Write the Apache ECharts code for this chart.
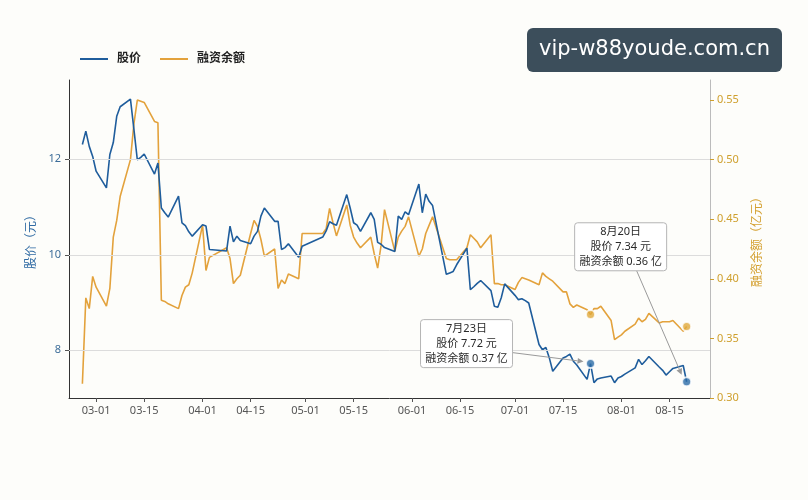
<!DOCTYPE html>
<html>
<head>
<meta charset="utf-8">
<script src="https://cdn.jsdelivr.net/npm/echarts@6/dist/echarts.min.js"></script>
<style>
  html, body { margin: 0; padding: 0; background: #fdfdfa; }
  #viz { width: 808px; height: 500px; }
</style>
</head>
<body>
<div id="viz"></div>
<script>
// trading days (2024)
var dates = [
  '02-26','02-27','02-28','02-29',
  '03-01','03-04','03-05','03-06','03-07','03-08','03-11','03-12','03-13','03-14','03-15',
  '03-18','03-19','03-20','03-21','03-22','03-25','03-26','03-27','03-28','03-29',
  '04-01','04-02','04-03','04-08','04-09','04-10','04-11','04-12','04-15','04-16',
  '04-17','04-18','04-19','04-22','04-23','04-24','04-25','04-26','04-29','04-30',
  '05-06','05-07','05-08','05-09','05-10','05-13','05-14','05-15','05-16','05-17',
  '05-20','05-21','05-22','05-23','05-24','05-27','05-28','05-29','05-30','05-31',
  '06-03','06-04','06-05','06-06','06-07','06-11','06-12','06-13','06-14','06-17',
  '06-18','06-19','06-20','06-21','06-24','06-25','06-26','06-27','06-28',
  '07-01','07-02','07-03','07-04','07-05','07-08','07-09','07-10','07-11','07-12',
  '07-15','07-16','07-17','07-18','07-19','07-22','07-23','07-24','07-25','07-26',
  '07-29','07-30','07-31',
  '08-01','08-02','08-05','08-06','08-07','08-08','08-09','08-12','08-13','08-14',
  '08-15','08-16','08-19','08-20'
];

// 股价 (元)
var price = [
  12.31, 12.59, 12.27, 12.06,
  11.75, 11.40, 12.10, 12.35, 12.90, 13.10, 13.26, 12.63, 11.99, 12.04, 12.11,
  11.69, 11.92, 10.98, 10.88, 10.79, 11.23, 10.67, 10.61, 10.48, 10.39,
  10.63, 10.60, 10.11, 10.08, 10.60, 10.27, 10.39, 10.30, 10.23, 10.39,
  10.49, 10.81, 10.98, 10.70, 10.70, 10.11, 10.15, 10.23, 9.95, 10.18,
  10.37, 10.50, 10.69, 10.65, 10.62, 11.26, 10.98, 10.67, 10.62, 10.49,
  10.88, 10.74, 10.26, 10.22, 10.15, 10.07, 10.81, 10.74, 10.90, 10.84,
  11.48, 10.88, 11.27, 11.12, 11.03, 9.59, 9.62, 9.65, 9.79, 10.14,
  9.27, 9.33, 9.40, 9.46, 9.25, 8.92, 8.90, 9.10, 9.39,
  9.15, 9.06, 9.08, 9.04, 8.99, 8.12, 8.01, 8.06, 7.84, 7.56,
  7.84, 7.87, 7.92, 7.77, 7.69, 7.39, 7.72, 7.32, 7.40, 7.42,
  7.46, 7.32, 7.42,
  7.45, 7.50, 7.63, 7.81, 7.70, 7.78, 7.87, 7.65, 7.58, 7.48,
  7.55, 7.62, 7.68, 7.34
];

// 融资余额 (亿元)
var margin = [
  0.312, 0.384, 0.375, 0.402,
  0.393, 0.377, 0.392, 0.435, 0.449, 0.469, 0.500, 0.530, 0.550, 0.549, 0.548,
  0.532, 0.531, 0.382, 0.381, 0.379, 0.375, 0.386, 0.393, 0.395, 0.405,
  0.445, 0.407, 0.418, 0.426, 0.417, 0.396, 0.400, 0.403, 0.438, 0.449,
  0.444, 0.433, 0.419, 0.425, 0.392, 0.399, 0.396, 0.404, 0.400, 0.438,
  0.438, 0.442, 0.459, 0.447, 0.436, 0.462, 0.445, 0.435, 0.430, 0.426,
  0.435, 0.421, 0.409, 0.428, 0.458, 0.423, 0.435, 0.440, 0.444, 0.452,
  0.419, 0.425, 0.438, 0.445, 0.452, 0.417, 0.416, 0.416, 0.416, 0.426,
  0.437, 0.434, 0.431, 0.426, 0.437, 0.396, 0.396, 0.395, 0.395,
  0.391, 0.397, 0.401, 0.400, 0.399, 0.395, 0.405, 0.402, 0.400, 0.398,
  0.389, 0.389, 0.379, 0.376, 0.378, 0.374, 0.370, 0.375, 0.375, 0.377,
  0.365, 0.349, 0.351,
  0.353, 0.356, 0.362, 0.367, 0.364, 0.366, 0.371, 0.363, 0.364, 0.364,
  0.364, 0.365, 0.356, 0.360
];

var tickDates = ['03-01','03-15','04-01','04-15','05-01','05-15','06-01','06-15','07-01','07-15','08-01','08-15'];
var priceTicks = [8, 10, 12];
var marginTicks = [0.30, 0.35, 0.40, 0.45, 0.50, 0.55];

// annotated days
var annoDates = ['07-23', '08-20'];
var annoLabels = ['7月23日', '8月20日'];
var annoPrice = [7.72, 7.34];
var annoMargin = [0.37, 0.36];

var YEAR = '2024-';
var BLUE = '#1f5d9c';
var ORANGE = '#e3a23c';
var GOLD = '#cfa02e';
var FONT = '"Noto Sans", "Noto Sans CJK SC", sans-serif';

function ts(d){
  var p = (YEAR + d).split('-');
  return new Date(+p[0], +p[1] - 1, +p[2]).getTime();
}
var DAY = 86400000;

var priceData = [], marginData = [];
for (var i in dates){
  priceData.push([ts(dates[i]), price[i]]);
  marginData.push([ts(dates[i]), margin[i]]);
}
var annoPriceData = [], annoMarginData = [];
for (var i in annoDates){
  annoPriceData.push([ts(annoDates[i]), annoPrice[i]]);
  annoMarginData.push([ts(annoDates[i]), annoMargin[i]]);
}
var tickVals = tickDates.map(ts);

var dom = document.getElementById('viz');
var myChart = echarts.init(dom, null, {renderer: 'canvas'});

var option = {
  backgroundColor: '#fdfdfa',
  animation: false,
  textStyle: { fontFamily: FONT },
  legend: {
    left: 75,
    top: 48,
    icon: 'rect',
    itemWidth: 28,
    itemHeight: 2,
    itemGap: 19,
    textStyle: { fontSize: 12, fontWeight: 'bold', color: '#222', fontFamily: FONT, padding: [0, 0, 0, 4] },
    data: ['股价', '融资余额']
  },
  grid: { left: 69, right: 98, top: 80, bottom: 102 },
  xAxis: {
    // timestamps on a value axis so the ticks can sit on the 1st and 15th
    type: 'value',
    min: ts('03-01') - 7.9 * DAY,
    max: ts('03-01') + 178.8 * DAY,
    axisLine: { lineStyle: { color: '#333', width: 1 } },
    axisTick: { customValues: tickVals, length: 4, lineStyle: { color: '#555' } },
    axisLabel: {
      customValues: tickVals,
      color: '#555',
      fontSize: 11,
      margin: 7,
      formatter: function(v){ return echarts.time.format(v, '{MM}-{dd}', false); }
    },
    splitLine: { show: false }
  },
  yAxis: [{
    type: 'value',
    min: 7,
    max: 13.66,
    position: 'left',
    name: '股价（元）',
    nameLocation: 'middle',
    nameRotate: 90,
    nameGap: 31,
    nameTextStyle: { color: '#2f6aa3', fontSize: 12 },
    axisLine: { show: true, lineStyle: { color: '#333', width: 1 } },
    axisTick: { show: true, customValues: priceTicks, length: 4, lineStyle: { color: '#555' } },
    axisLabel: { customValues: priceTicks, color: '#3d6d99', fontSize: 11, margin: 8 },
    splitLine: { show: false }
  }, {
    type: 'value',
    min: 0.30,
    max: 0.5668,
    position: 'right',
    name: '融资余额（亿元）',
    nameLocation: 'middle',
    nameRotate: 90,
    nameGap: 42,
    nameTextStyle: { color: '#d4a030', fontSize: 12 },
    axisLine: { show: true, lineStyle: { color: '#bbb', width: 1 } },
    axisTick: { show: true, customValues: marginTicks, length: 4, lineStyle: { color: GOLD } },
    axisLabel: { customValues: marginTicks, color: GOLD, fontSize: 11, margin: 7,
      formatter: function(v){ return v.toFixed(2); } },
    splitLine: { show: false }
  }],
  series: [{
    name: 'grid',
    type: 'line',
    data: [],
    silent: true,
    z: 0,
    markLine: {
      silent: true,
      symbol: 'none',
      label: { show: false },
      lineStyle: { color: '#dcdcdc', type: 'solid', width: 1 },
      data: priceTicks.map(function(v){ return { yAxis: v }; })
    }
  }, {
    name: '股价',
    type: 'line',
    yAxisIndex: 0,
    symbol: 'none',
    color: BLUE,
    lineStyle: { color: BLUE, width: 1.6 },
    data: priceData,
    z: 3
  }, {
    name: '融资余额',
    type: 'line',
    yAxisIndex: 1,
    symbol: 'none',
    color: ORANGE,
    lineStyle: { color: ORANGE, width: 1.6 },
    data: marginData,
    z: 2
  }, {
    name: 'p-dot',
    type: 'scatter',
    yAxisIndex: 0,
    symbolSize: 9,
    itemStyle: { color: '#2a6ca8', borderColor: '#fff', borderWidth: 2 },
    data: annoPriceData,
    z: 5
  }, {
    name: 'm-dot',
    type: 'scatter',
    yAxisIndex: 1,
    symbolSize: 9,
    itemStyle: { color: '#e0a93c', borderColor: '#fff', borderWidth: 2 },
    data: annoMarginData,
    z: 5
  }]
};
myChart.setOption(option);

/* annotation boxes + arrows, placed from the dots' pixel positions */
function arrow(x1, y1, x2, y2){
  var ang = Math.atan2(y2 - y1, x2 - x1), L = 6, W = 3;
  var bx = x2 - L * Math.cos(ang), by = y2 - L * Math.sin(ang);
  return [{
    type: 'line', z: 20, silent: true,
    shape: { x1: x1, y1: y1, x2: bx, y2: by },
    style: { stroke: '#9a9a9a', lineWidth: 1 }
  }, {
    type: 'polygon', z: 20, silent: true,
    shape: { points: [[x2, y2],
      [bx + W * Math.sin(ang), by - W * Math.cos(ang)],
      [bx - W * Math.sin(ang), by + W * Math.cos(ang)]] },
    style: { fill: '#9a9a9a' }
  }];
}

var boxOff = [[-124, -20], [-66, -135]];
var arrowOff = [[[-78, -11], [-7, -2]], [[-50, -111], [-5, -7]]];
var graphics = [];
for (var i in annoDates){
  var pt = myChart.convertToPixel({ xAxisIndex: 0, yAxisIndex: 0 }, annoPriceData[i]);
  var cx = pt[0] + boxOff[i][0], cy = pt[1] + boxOff[i][1];
  var w = 92, h = 48;
  graphics.push({
    type: 'rect', z: 21, silent: true,
    shape: { x: cx - w / 2, y: cy - h / 2, width: w, height: h, r: 3 },
    style: { fill: 'rgba(255,255,255,0.95)', stroke: '#b5b5b5', lineWidth: 1 }
  });
  graphics.push({
    type: 'text', z: 22, silent: true,
    x: cx, y: cy,
    style: {
      text: annoLabels[i] + '\n股价 ' + annoPrice[i].toFixed(2) + ' 元\n融资余额 ' + annoMargin[i].toFixed(2) + ' 亿',
      align: 'center', verticalAlign: 'middle',
      fontSize: 11, lineHeight: 15, fontFamily: FONT, fill: '#2a2a2a'
    }
  });
  var a = arrowOff[i];
  graphics = graphics.concat(arrow(pt[0] + a[0][0], pt[1] + a[0][1], pt[0] + a[1][0], pt[1] + a[1][1]));
}
// site watermark box, top right
graphics.push({
  type: 'rect', z: 30, silent: true,
  shape: { x: 527, y: 28, width: 255, height: 44, r: 6 },
  style: { fill: '#3c4e5b' }
});
graphics.push({
  type: 'text', z: 31, silent: true,
  x: 654.5, y: 50,
  style: { text: 'vip-w88youde.com.cn', align: 'center', verticalAlign: 'middle',
    fontSize: 21, fontFamily: '"DejaVu Sans", sans-serif', fill: '#ffffff' }
});
myChart.setOption({ graphic: graphics });
</script>
</body>
</html>
